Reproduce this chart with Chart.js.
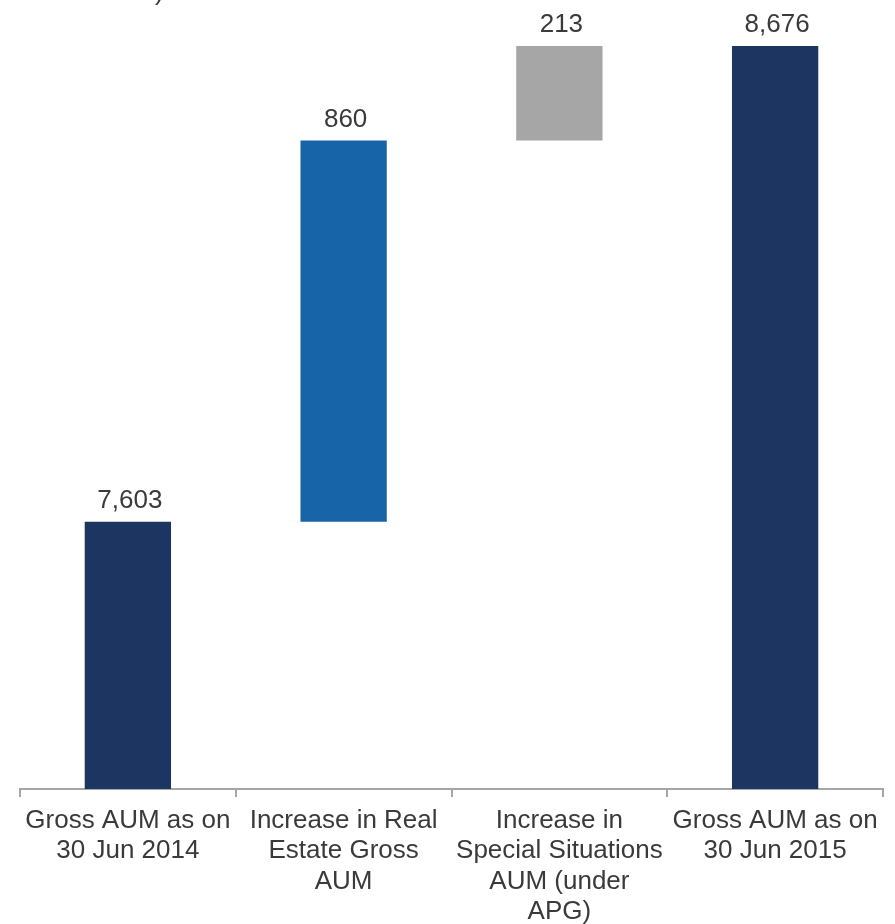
<!DOCTYPE html>
<html>
<head>
<meta charset="utf-8">
<script src="https://cdn.jsdelivr.net/npm/chart.js@4"></script>
<style>
  html, body { margin: 0; padding: 0; background: #fff; }
  #wrap { width: 895px; height: 924px; }
</style>
</head>
<body>
<div id="wrap"><canvas id="waterfall"></canvas></div>
<script>
"use strict";

// chart data
const categories = [
  ["Gross AUM as on", "30 Jun 2014"],
  ["Increase in Real", "Estate Gross", "AUM"],
  ["Increase in", "Special Situations", "AUM (under", "APG)"],
  ["Gross AUM as on", "30 Jun 2015"]
];
const values = [7603, 860, 213, 8676];
const isTotal = [true, false, false, true];
const barColors = ["#1D3661", "#1764A8", "#A6A6A6", "#1D3661"];
const yMin = 7000;
const yMax = 8780;

// build floating ranges for the waterfall
var running = 0;
const ranges = values.map(function (v, i) {
  if (isTotal[i]) {
    running = v;
    return [0, v];
  }
  var r = [running, running + v];
  running += v;
  return r;
});

// value labels above each bar
const barLabels = {
  id: "barLabels",
  afterDatasetsDraw(chart) {
    const ctx = chart.ctx;
    const meta = chart.getDatasetMeta(0);
    ctx.save();
    ctx.font = "26px 'Liberation Sans', Arial, sans-serif";
    ctx.fillStyle = "#3A3A3A";
    ctx.textAlign = "center";
    ctx.textBaseline = "alphabetic";
    meta.data.forEach(function (bar, i) {
      ctx.fillText(values[i].toLocaleString("en-US"), bar.x + 2, bar.y - 14);
    });
    // tail of the cut-off title at the top
    ctx.textAlign = "left";
    ctx.fillText(")", 155, 0);
    ctx.restore();
  }
};

new Chart(document.getElementById("waterfall"), {
  type: "bar",
  data: {
    labels: categories,
    datasets: [{
      data: ranges,
      backgroundColor: barColors,
      borderWidth: 0,
      borderSkipped: false,
      barPercentage: 0.8,
      categoryPercentage: 0.5
    }]
  },
  plugins: [barLabels],
  options: {
    responsive: true,
    maintainAspectRatio: false,
    animation: false,
    layout: { padding: { left: 20, right: 12, top: 0, bottom: 0 } },
    plugins: {
      legend: { display: false },
      tooltip: { enabled: false }
    },
    scales: {
      x: {
        grid: {
          display: true,
          drawOnChartArea: false,
          drawTicks: true,
          tickLength: 8,
          color: "#A6A6A6",
          lineWidth: 2
        },
        border: { display: true, color: "#A6A6A6", width: 2 },
        ticks: {
          color: "#3A3A3A",
          padding: 9,
          maxRotation: 0,
          autoSkip: false,
          font: { family: "'Liberation Sans', Arial, sans-serif", size: 26, lineHeight: 1.16 }
        },
        afterFit: function (scale) {
          scale.height = 135;
        }
      },
      y: {
        display: false,
        min: yMin,
        max: yMax
      }
    }
  }
});
</script>
</body>
</html>
